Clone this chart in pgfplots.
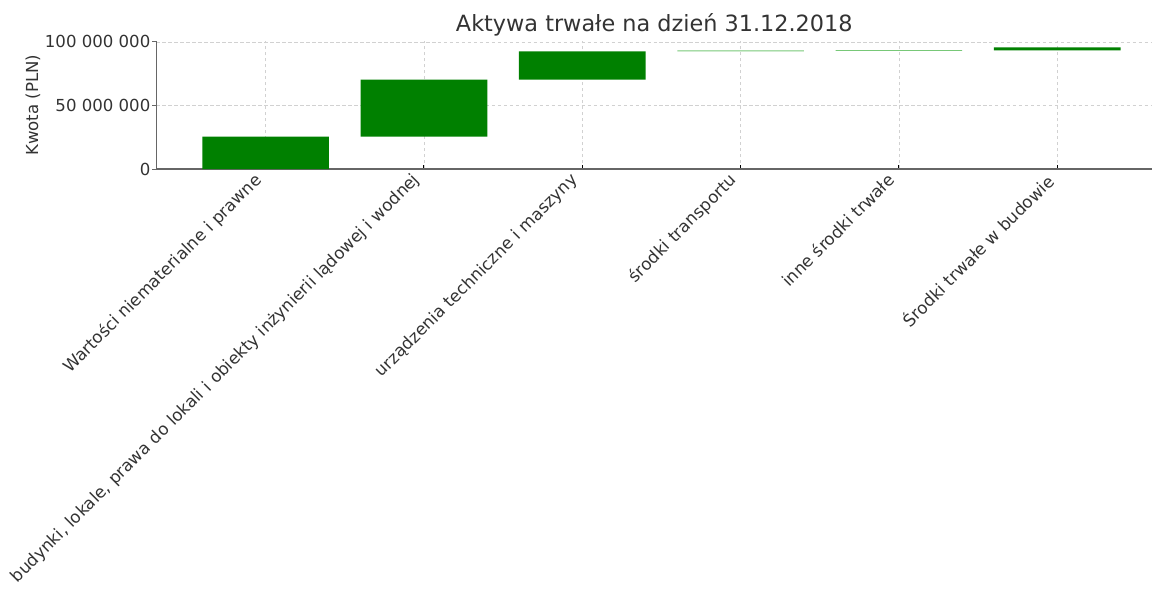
\documentclass[border=0pt]{standalone}
\usepackage{pgfplots}
\pgfplotsset{compat=1.18}
\usepackage{fontspec}
\setmainfont{DejaVu Sans}
\definecolor{bargreen}{HTML}{008000}
\definecolor{lightbar}{HTML}{78C878}
\definecolor{txt}{HTML}{333333}
\begin{document}
\begin{tikzpicture}
\begin{axis}[
  scale only axis,
  width=498.8pt, height=64pt,
  xmin=-0.69, xmax=5.6,
  ymin=0, ymax=100500000,
  ybar stacked, bar width=0.8,
  axis x line*=bottom, axis y line*=left,
  axis line style={draw=black!60, line width=0.8pt},
  xtick={0,1,2,3,4,5},
  xticklabels={Wartości niematerialne i prawne,{budynki, lokale, prawa do lokali i obiekty inżynierii lądowej i wodnej},urządzenia techniczne i maszyny,środki transportu,inne środki trwałe,Środki trwałe w budowie},
  xticklabel style={xshift=-6.4pt, yshift=0.3pt, rotate=45, anchor=north east, font=\fontsize{8.4}{10}\selectfont, text=txt, inner sep=1pt},
  ytick={0,50000000,100000000},
  yticklabels={0,50 000 000,100 000 000},
  yticklabel style={font=\fontsize{8.3}{10}\selectfont, text=txt, xshift=2.5pt},
  scaled y ticks=false,
  x tick style={draw=black, line width=0.5pt},
  y tick style={draw=black!60, line width=0.5pt},
  major tick length=2pt,
  xtick align=inside, ytick align=outside,
  grid=major,
  major grid style={dash pattern=on 1.8pt off 1.2pt, draw=black!18, line width=0.4pt},
  ylabel={Kwota (PLN)},
  ylabel style={font=\fontsize{8.3}{10}\selectfont, text=txt, yshift=-4.5pt},
  title={Aktywa trwałe na dzień 31.12.2018},
  title style={font=\fontsize{11.2}{13}\selectfont, text=txt, yshift=-7pt},
  clip=false,
]
\addplot[draw=none, fill=none] coordinates {(0,0) (1,25500000) (2,70300000) (3,92500000) (4,92900000) (5,93300000)};
\addplot[draw=none, fill=bargreen] coordinates {(0,25500000) (1,44800000) (2,22200000) (3,0) (4,0) (5,2400000)};
\addplot[draw=none, fill=lightbar] coordinates {(0,0) (1,0) (2,0) (3,900000) (4,700000) (5,0)};
\end{axis}
\path (current bounding box.north west) ++(0,3.5pt);
\path (current bounding box.south west) ++(-3pt,0);
\end{tikzpicture}
\end{document}
